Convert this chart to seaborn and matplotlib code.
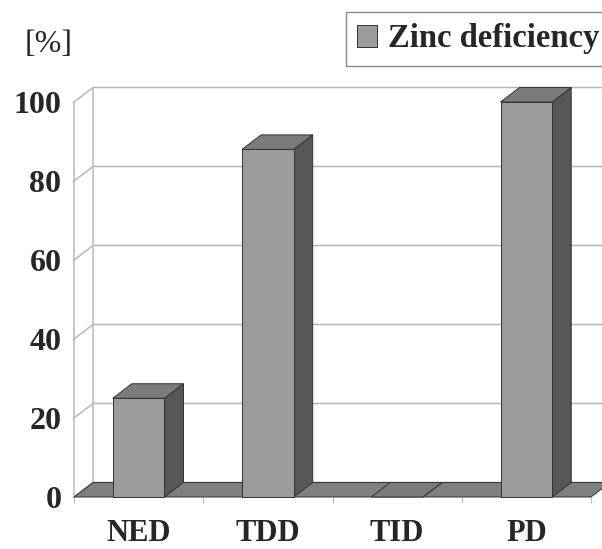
import matplotlib
matplotlib.use('Agg')
import matplotlib.pyplot as plt
import seaborn as sns
import pandas as pd
from matplotlib.patches import Polygon

# ---- data ----
categories = ['NED', 'TDD', 'TID', 'PD']
values = [25, 88, 0, 100]
y_ticks = [0, 20, 40, 60, 80, 100]
series_name = 'Zinc deficiency'
unit_label = '[%]'

sns.set_theme(style='white')
plt.rcParams['font.family'] = ['Liberation Serif', 'DejaVu Serif']

W, H = 602, 549
fig = plt.figure(figsize=(W / 100, H / 100), dpi=100)
fig.patch.set_facecolor('white')
ax = fig.add_axes([74 / W, 1 - 497 / H, (591 - 74) / W, (497 - 102) / H])
ax.patch.set_visible(False)

FRONT = '#9b9b9b'
TOP = '#7b7b7b'
SIDE = '#575757'
FLOOR = '#7f7f7f'
EDGE = '#333333'
GRID = '#b8b8b8'

df = pd.DataFrame({'category': categories, 'value': values})
sns.barplot(data=df, x='category', y='value', ax=ax, color=FRONT, width=0.4,
            saturation=1, edgecolor=EDGE, linewidth=0.7, label=series_name,
            zorder=3)
if ax.get_legend() is not None:
    ax.get_legend().remove()
bars = list(ax.patches)

ax.set_xlim(-0.5, len(categories) - 0.5)
ax.set_ylim(0, 100)

# depth offsets (pixel depth converted to data units)
p0 = ax.transData.transform((0, 0))
p1 = ax.transData.transform((1, 1))
ux, uy = p1[0] - p0[0], p1[1] - p0[1]
ddx = 19 / ux
ddy = 14.5 / uy
xl, xr = -0.5, len(categories) - 0.5

# back wall gridlines and left wall diagonals
for t in y_ticks:
    ax.plot([xl, xl + ddx, xr + ddx + 1], [t, t + ddy, t + ddy], color=GRID,
            lw=1.1, clip_on=False, zorder=0.5)
ax.plot([xl, xl], [0, 100], color=GRID, lw=1.1, clip_on=False, zorder=0.5)
ax.plot([xl + ddx, xl + ddx], [ddy, 100 + ddy], color=GRID, lw=1.1,
        clip_on=False, zorder=0.5)

# floor
floor = Polygon([(xl, 0), (xr, 0), (xr + ddx, ddy), (xl + ddx, ddy)],
                closed=True, facecolor=FLOOR, edgecolor=EDGE, lw=0.7,
                clip_on=False, zorder=1)
ax.add_patch(floor)

# 3D extrusion of bars
for p in bars:
    x0, w, h = p.get_x(), p.get_width(), p.get_height()
    top = Polygon([(x0, h), (x0 + w, h), (x0 + w + ddx, h + ddy), (x0 + ddx, h + ddy)],
                  closed=True, facecolor=TOP, edgecolor=EDGE, lw=0.7,
                  clip_on=False, zorder=2)
    side = Polygon([(x0 + w, 0), (x0 + w + ddx, ddy), (x0 + w + ddx, h + ddy), (x0 + w, h)],
                   closed=True, facecolor=SIDE, edgecolor=EDGE, lw=0.7,
                   clip_on=False, zorder=2)
    ax.add_patch(side)
    ax.add_patch(top)
    p.set_clip_on(False)
    if h == 0:
        p.set_visible(False)

for s in ax.spines.values():
    s.set_visible(False)

ax.set_xlabel('')
ax.set_ylabel('')
ax.set_yticks(y_ticks)
ax.set_yticklabels([str(t) for t in y_ticks], fontsize=23, fontweight='bold')
ax.set_xticks(range(len(categories)))
ax.set_xticklabels(categories, fontsize=22, fontweight='bold')
ax.set_xticks([i - 0.5 for i in range(len(categories) + 1)], minor=True)
ax.tick_params(axis='y', left=True, length=1.5, width=0.8, color=GRID, pad=7.5)
ax.tick_params(axis='x', which='major', bottom=True, length=0, pad=15.5)
ax.tick_params(axis='x', which='minor', bottom=True, length=4.3, width=0.8, color=GRID)

fig.text(49 / W, 1 - 45 / H, unit_label, ha='center', va='center', fontsize=23)

leg = fig.legend(bars[:1], [series_name], loc='upper left',
                 bbox_to_anchor=(346 / W, 1 - 12 / H), bbox_transform=fig.transFigure,
                 frameon=True, fancybox=False, edgecolor='#8a8a8a', framealpha=1,
                 prop={'weight': 'bold', 'size': 23.5}, borderpad=0.35,
                 handlelength=0.6, handleheight=0.7, handletextpad=0.35,
                 borderaxespad=0)
leg.get_frame().set_linewidth(1.0)

fig.savefig('out.png', dpi=100, facecolor='white')
